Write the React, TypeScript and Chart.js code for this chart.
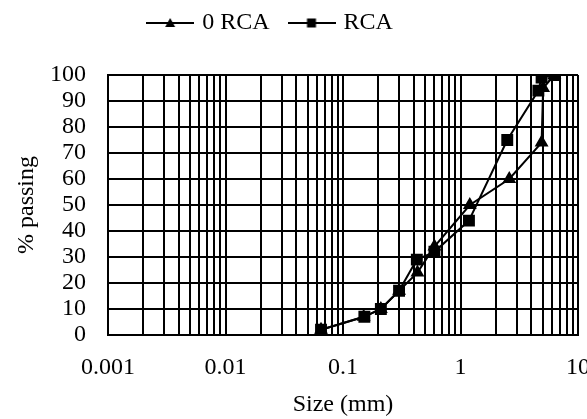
import React, { useEffect, useRef } from "react";
import { Chart, registerables } from "chart.js";

Chart.register(...registerables);

// ---- data ----
const seriesNames = ["0 RCA", "RCA"];
const sizes0RCA = [0.065, 0.15, 0.21, 0.3, 0.43, 0.6, 1.2, 2.6, 4.9, 5.05, 6.3];
const passing0RCA = [2, 7, 10, 17, 24, 34, 50, 60, 74, 95, 100];
const sizesRCA = [0.065, 0.152, 0.21, 0.3, 0.425, 0.6, 1.18, 2.5, 4.6, 4.9, 6.3];
const passingRCA = [2, 7, 10, 17, 29, 32, 44, 75, 94, 99, 100];
const xDecades = [0.001, 0.01, 0.1, 1, 10];
const yTickValues = [0, 10, 20, 30, 40, 50, 60, 70, 80, 90, 100];
const xTitle = "Size (mm)";
const yTitle = "% passing";

const FONT_FAMILY = "'Liberation Serif', 'Times New Roman', serif";

function buildLogGrid(): number[] {
  const vals: number[] = [];
  for (let i = 0; i < xDecades.length - 1; i++) {
    for (let d = 1; d <= 9; d++) {
      vals.push(Number((d * xDecades[i]).toPrecision(6)));
    }
  }
  vals.push(xDecades[xDecades.length - 1]);
  return vals;
}

function makeLegendIcon(kind: "triangle" | "rect"): HTMLCanvasElement {
  const c = document.createElement("canvas");
  c.width = 48;
  c.height = 14;
  const ctx = c.getContext("2d")!;
  ctx.strokeStyle = "#000";
  ctx.lineWidth = 2;
  ctx.beginPath();
  ctx.moveTo(0, 7);
  ctx.lineTo(48, 7);
  ctx.stroke();
  ctx.fillStyle = "#000";
  if (kind === "rect") {
    ctx.fillRect(19.5, 2.5, 9, 9);
  } else {
    ctx.beginPath();
    ctx.moveTo(24, 2);
    ctx.lineTo(29, 11);
    ctx.lineTo(19, 11);
    ctx.closePath();
    ctx.fill();
  }
  return c;
}

export default function App() {
  const canvasRef = useRef<HTMLCanvasElement | null>(null);

  useEffect(() => {
    if (!canvasRef.current) return;
    const font = { family: FONT_FAMILY, size: 24 };
    const gridVals = buildLogGrid();
    const icons = [makeLegendIcon("triangle"), makeLegendIcon("rect")];

    const legendShift = {
      id: "legendShift",
      afterLayout(chart: any) {
        const lg = chart.legend;
        if (!lg) return;
        const h = lg.bottom - lg.top;
        lg.top = -11;
        lg.bottom = h - 11;
        lg.right -= 44;
      },
    };

    const chart = new Chart(canvasRef.current, {
      type: "line",
      data: {
        datasets: [
          {
            label: seriesNames[0],
            data: sizes0RCA.map((x, i) => ({ x, y: passing0RCA[i] })),
            borderColor: "#000",
            backgroundColor: "#000",
            borderWidth: 2,
            pointStyle: "triangle",
            pointRadius: 6,
            pointBackgroundColor: "#000",
            pointBorderColor: "#000",
            tension: 0,
          },
          {
            label: seriesNames[1],
            data: sizesRCA.map((x, i) => ({ x, y: passingRCA[i] })),
            borderColor: "#000",
            backgroundColor: "#000",
            borderWidth: 2,
            pointStyle: "rect",
            pointRadius: 7,
            pointBackgroundColor: "#000",
            pointBorderColor: "#000",
            tension: 0,
          },
        ],
      },
      options: {
        animation: false,
        responsive: true,
        maintainAspectRatio: false,
        layout: { padding: { left: 8, right: 8, top: 19, bottom: 0 } },
        plugins: {
          tooltip: { enabled: false },
          legend: {
            display: true,
            position: "top",
            labels: {
              color: "#000",
              font,
              usePointStyle: true,
              pointStyleWidth: 40,
              padding: 22,
              generateLabels: (ch: any) =>
                ch.data.datasets.map((ds: any, i: number) => ({
                  text: ds.label,
                  pointStyle: icons[i],
                  fillStyle: "#000",
                  strokeStyle: "#000",
                  lineWidth: 0,
                  hidden: false,
                  datasetIndex: i,
                  fontColor: "#000",
                })),
            },
          },
        },
        scales: {
          x: {
            type: "logarithmic",
            min: xDecades[0],
            max: xDecades[xDecades.length - 1],
            afterBuildTicks: (scale: any) => {
              scale.ticks = gridVals.map((v) => ({ value: v }));
            },
            afterFit: (scale: any) => {
              scale.paddingLeft = 0;
              scale.paddingRight = 0;
              scale.height = 84;
            },
            ticks: {
              autoSkip: false,
              maxRotation: 0,
              minRotation: 0,
              color: "#000",
              font,
              padding: 18,
              callback: (v: any) => (xDecades.includes(Number(v)) ? String(v) : ""),
            },
            grid: { color: "#000", lineWidth: 2, drawTicks: false },
            border: { color: "#000", width: 2 },
            title: {
              display: true,
              text: xTitle,
              color: "#000",
              font,
              padding: { top: 0, bottom: 0 },
            },
          },
          y: {
            type: "linear",
            min: yTickValues[0],
            max: yTickValues[yTickValues.length - 1],
            afterBuildTicks: (scale: any) => {
              scale.ticks = yTickValues.map((v) => ({ value: v }));
            },
            afterFit: (scale: any) => {
              scale.width = 100;
            },
            ticks: { color: "#000", font, padding: 22, autoSkip: false },
            grid: { color: "#000", lineWidth: 2, drawTicks: false },
            border: { color: "#000", width: 2 },
            title: {
              display: true,
              text: yTitle,
              color: "#000",
              font,
              padding: { top: 4, bottom: 4 },
            },
          },
        },
      },
      plugins: [legendShift],
    } as any);

    return () => chart.destroy();
  }, []);

  return (
    <div
      style={{
        position: "absolute",
        left: 0,
        top: 0,
        width: 587,
        height: 419,
        overflow: "hidden",
        background: "#fff",
      }}
    >
      <canvas ref={canvasRef} />
    </div>
  );
}
